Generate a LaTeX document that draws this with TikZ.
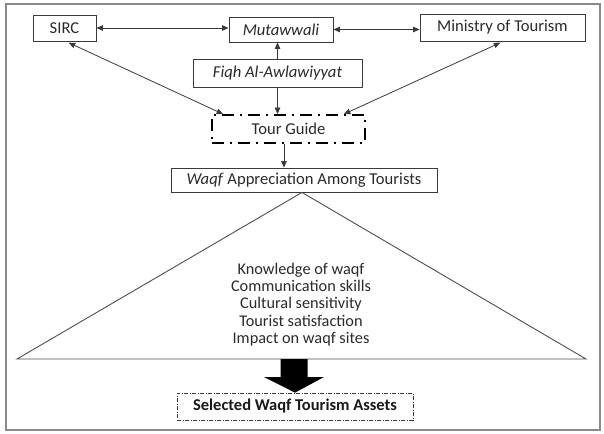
\documentclass[tikz,border=0pt]{standalone}
\usepackage{fontspec}
\setmainfont{Carlito}
\usetikzlibrary{arrows.meta,calc}
\definecolor{ln}{HTML}{3A3A3A}
\definecolor{tx}{HTML}{2A2A2A}
\definecolor{fr}{HTML}{8A8A8A}
\begin{document}
\begin{tikzpicture}[x=1pt,y=-1pt,
  box/.style={draw=ln,line width=0.9pt,inner sep=0pt,text=tx,font=\fontsize{16.6}{18}\selectfont},
  tgbox/.style={draw=black,line width=1.8pt,dash pattern=on 12pt off 6pt on 2pt off 6pt,inner sep=0pt,text=tx,font=\fontsize{16.6}{18}\selectfont},
  selbox/.style={draw=ln,line width=0.7pt,dash pattern=on 4pt off 1.5pt on 1pt off 1.5pt,inner sep=0pt,text=black!90,font=\fontsize{16.5}{18}\selectfont\bfseries},
  dbl/.style={draw=ln,line width=0.8pt,{Triangle[length=6.5pt,width=5.5pt]}-{Triangle[length=6.5pt,width=5.5pt]}},
  one/.style={draw=ln,line width=0.8pt,-{Triangle[length=6.5pt,width=5.5pt]}}]
\useasboundingbox (0,0) rectangle (604,433);
\draw[draw=fr,line width=1.5pt] (6,4) rectangle (600,430);
% top row
\node[box,minimum width=63pt,minimum height=26pt] (sirc) at (64.5,28) {SIRC};
\node[box,minimum width=104pt,minimum height=25pt] (mut) at (281,29.5) {\itshape Mutawwali};
\node[box,minimum width=165pt,minimum height=27pt] (min) at (502.5,27.5) {Ministry of Tourism};
\node[box,minimum width=169pt,minimum height=28pt] (fiqh) at (277.5,73) {\itshape Fiqh Al-Awlawiyyat};
\node[tgbox,minimum width=153pt,minimum height=28pt] (tg) at (288.5,129) {Tour Guide};
\node[box,minimum width=266pt,minimum height=24pt] (wa) at (304,180) {\textit{Waqf} Appreciation Among Tourists};
% connectors
\draw[dbl] (sirc.east) -- (sirc.east -| mut.west);
\draw[dbl] (mut.east) -- (mut.east -| min.west);
\draw[one] (fiqh.north) -- (fiqh.north |- mut.south);
\draw[one] (fiqh.south) -- (fiqh.south |- tg.north);
\draw[dbl,shorten <=3pt] ([xshift=1.5pt]sirc.south) -- ([xshift=12pt]tg.north west);
\draw[dbl,shorten <=3pt] ([xshift=0.5pt]min.south) -- ([xshift=-22pt]tg.north east);
\draw[one] ([xshift=-4.5pt]tg.south) -- ([xshift=-4.5pt]tg.south |- wa.north);
% triangle
\coordinate (bl) at (17,359);
\coordinate (br) at (586,359);
\draw[draw=ln!90,line width=0.9pt,line join=miter] ([xshift=-2pt]wa.south) -- (bl) -- (br) -- cycle;
\node[align=center,text=tx,font=\fontsize{16.3}{17.3}\selectfont,inner sep=0pt] (crit) at (301,304.5)
  {Knowledge of waqf\\Communication skills\\Cultural sensitivity\\Tourist satisfaction\\Impact on waqf sites};
% bottom
\node[selbox,minimum width=236pt,minimum height=27pt] (sel) at (295,406.5) {Selected Waqf Tourism Assets};
\fill[black] (280.5,359) -- (307.5,359) -- (307.5,377) -- (324,377) -- (sel.north) -- (264,377) -- (280.5,377) -- cycle;
\end{tikzpicture}
\end{document}
